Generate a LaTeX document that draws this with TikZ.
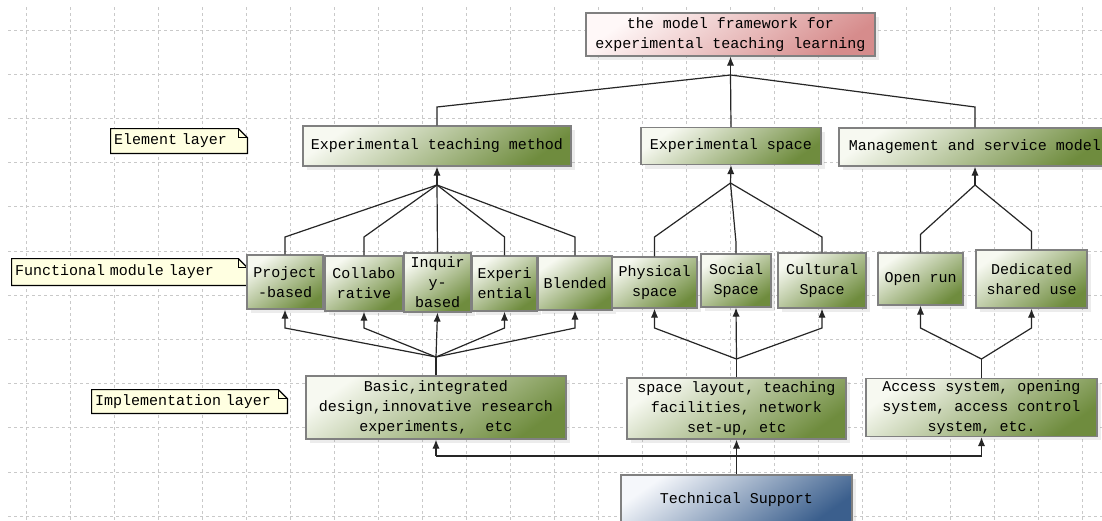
\documentclass[tikz,border=0pt]{standalone}
\usepackage{fontspec}
\newfontfamily\boxfont{Liberation Mono}[WordSpace={1,0,0}]
\usetikzlibrary{shadows,arrows.meta}

\definecolor{greenhi}{HTML}{F7F9F1}
\definecolor{greenlo}{HTML}{6F8C3E}
\definecolor{pinkhi}{HTML}{FFF8F8}
\definecolor{pinklo}{HTML}{D68C8C}
\definecolor{bluehi}{HTML}{F5F7FB}
\definecolor{bluelo}{HTML}{3B5F8D}
\definecolor{noteyellow}{HTML}{FFFFE1}
\definecolor{edgegray}{HTML}{808080}
\definecolor{gridgray}{HTML}{C9C9C9}

\pgfdeclarelayer{gridlayer}
\pgfdeclarelayer{notelayer}
\pgfsetlayers{gridlayer,notelayer,main}

\tikzset{
  boxbase/.style={draw=edgegray, line width=0.6pt, inner sep=1pt, align=center,
    drop shadow={shadow xshift=2pt, shadow yshift=-2pt, opacity=0.15},
    font=\boxfont\fontsize{7.5}{10}\selectfont},
  modbox/.style={boxbase, top color=greenhi, bottom color=greenlo, shading angle=35},
  pinkbox/.style={boxbase, top color=pinkhi, bottom color=pinklo, shading angle=35},
  bluebox/.style={boxbase, top color=bluehi, bottom color=bluelo, shading angle=35},
  layernote/.style={inner xsep=1.5pt, inner ysep=0pt, align=left,
    font=\boxfont\fontsize{7.5}{10}\selectfont},
  notefold/.style={draw=black, fill=noteyellow, line width=0.6pt},
  gridline/.style={draw=gridgray, line width=0.4pt, dash pattern=on 1.5pt off 1.5pt},
  link/.style={draw=black!85, line width=0.6pt},
  feed/.style={link, -{Latex[length=4.5pt,width=3.6pt]}}
}

\begin{document}
\begin{tikzpicture}[x=0.5pt, y=-0.5pt]
\useasboundingbox (0,0) rectangle (1102,520);

% background grid
\begin{pgfonlayer}{gridlayer}
  \fill[white] (0,0) rectangle (1102,520);
  \foreach \gx in {26,70,...,1100}
    \draw[gridline] (\gx,7) -- (\gx,520);
  \foreach \gy in {30,74.2,...,520}
    \draw[gridline] (8,\gy) -- (1102,\gy);
\end{pgfonlayer}

% framework
\node[pinkbox, minimum width=144.5pt, minimum height=21.5pt] (model) at (730.5,34.5)
  {the model framework for\\experimental teaching learning};

% element layer
\node[modbox, minimum width=134pt, minimum height=20pt] (etm) at (437,146) {Experimental teaching method};
\node[modbox, minimum width=90pt, minimum height=18.5pt] (espace) at (731,146) {Experimental space};
\node[modbox, minimum width=136pt, minimum height=19pt] (msm) at (975,147) {Management and service model};

% functional module layer
\node[modbox, minimum width=38pt, minimum height=27pt] (proj) at (285,282) {Project\\-based};
\node[modbox, minimum width=39pt, minimum height=27.5pt] (collab) at (364,283.5) {Collabo\\rative};
\node[modbox, minimum width=33.5pt, minimum height=29.5pt] (inq) at (437.5,282.5) {Inquir\\y-\\based};
\node[modbox, minimum width=32.5pt, minimum height=27.5pt] (exper) at (504.5,283.5) {Experi\\ential};
\node[modbox, minimum width=37pt, minimum height=27pt] (blend) at (575,283) {Blended};
\node[modbox, minimum width=42.5pt, minimum height=25.5pt] (phys) at (654.5,282.5) {Physical\\space};
\node[modbox, minimum width=35pt, minimum height=26.5pt] (social) at (736,280.5) {Social\\Space};
\node[modbox, minimum width=44pt, minimum height=27.5pt] (cult) at (822,280.5) {Cultural\\Space};
\node[modbox, minimum width=42.5pt, minimum height=26pt] (open) at (920.5,279) {Open run};
\node[modbox, minimum width=55.5pt, minimum height=29pt] (dedic) at (1031.5,279) {Dedicated\\shared use};

% implementation layer
\node[modbox, minimum width=130pt, minimum height=31.5pt] (basic) at (436,407.5)
  {Basic,integrated\\design,innovative research\\experiments,~ etc};
\node[modbox, minimum width=109.5pt, minimum height=30.5pt] (spacel) at (736.5,408.5)
  {space layout, teaching\\facilities, network\\set-up, etc};
\node[modbox, minimum width=115.5pt, minimum height=28.5pt] (access) at (981.5,407.5)
  {Access system, opening\\system, access control\\system, etc.};

% support
\node[bluebox, minimum width=115.5pt, minimum height=25pt] (tech) at (736.5,500) {Technical Support};

% layer notes
\node[layernote, text width=65pt, minimum height=12pt] (elnote) at (179,141) {Element layer};
\node[layernote, text width=114.5pt, minimum height=13pt] (fmnote) at (129.5,272) {Functional module layer};
\node[layernote, text width=94.5pt, minimum height=11.5pt] (imnote) at (189.5,401.5) {Implementation layer};
\begin{pgfonlayer}{notelayer}
  \foreach \n in {elnote,fmnote,imnote}{
    \filldraw[notefold] (\n.south west) -- (\n.north west) -- ([xshift=-4.5pt]\n.north east)
      -- ([yshift=-4.5pt]\n.north east) -- (\n.south east) -- cycle;
    \draw[notefold, fill=none] ([xshift=-4.5pt]\n.north east) |- ([yshift=-4.5pt]\n.north east);
  }
\end{pgfonlayer}

% elements to framework
\coordinate (jtop) at (730.5,75);
\coordinate (topbend) at (0,107);
\draw[feed] (jtop) -- (model.south);
\draw[link] (etm.north) -- (etm.north |- topbend) -- (jtop);
\draw[link] (espace.north) -- (jtop);
\draw[link] (msm.north) -- (msm.north |- topbend) -- (jtop);

% modules to elements
\coordinate (hibend) at (0,237);
\coordinate (jetm) at (437,185);
\coordinate (jes) at (730.5,183);
\coordinate (jmsm) at (975,185);
\draw[feed] (jetm) -- (etm.south);
\draw[feed] (jes) -- (espace.south);
\draw[feed] (jmsm) -- (msm.south);
\foreach \m in {proj,collab,exper,blend}
  \draw[link] (\m.north) -- (\m.north |- hibend) -- (jetm);
\draw[link] (inq.north) -- (jetm);
\foreach \m in {phys,cult}
  \draw[link] (\m.north) -- (\m.north |- hibend) -- (jes);
\draw[link] (social.north) -- ++(0,-11) -- (jes);
\foreach \m in {open,dedic}
  \draw[link] (\m.north) -- ([yshift=9pt]\m.north) -- (jmsm);

% implementation to modules
\coordinate (lowbend) at (0,328);
\coordinate (jbasic) at (436,357);
\coordinate (jspace) at (736.5,359);
\coordinate (jacc) at (981.5,359);
\draw[link] (basic.north) -- (jbasic);
\draw[link] (spacel.north) -- (jspace);
\draw[link] (access.north) -- (jacc);
\foreach \m in {proj,collab,exper,blend}
  \draw[feed] (jbasic) -- (\m.south |- lowbend) -- (\m.south);
\draw[feed] (jbasic) -- (inq.south);
\foreach \m in {phys,cult}
  \draw[feed] (jspace) -- (\m.south |- lowbend) -- (\m.south);
\draw[feed] (jspace) -- (social.south);
\foreach \m in {open,dedic}
  \draw[feed] (jacc) -- (\m.south |- lowbend) -- (\m.south);

% support to implementation
\coordinate (busline) at (0,456);
\draw[feed] (tech.north) -- (spacel.south);
\draw[link] (basic.south |- busline) -- (access.south |- busline);
\draw[feed] (basic.south |- busline) -- (basic.south);
\draw[feed] (access.south |- busline) -- (access.south);
\end{tikzpicture}
\end{document}
